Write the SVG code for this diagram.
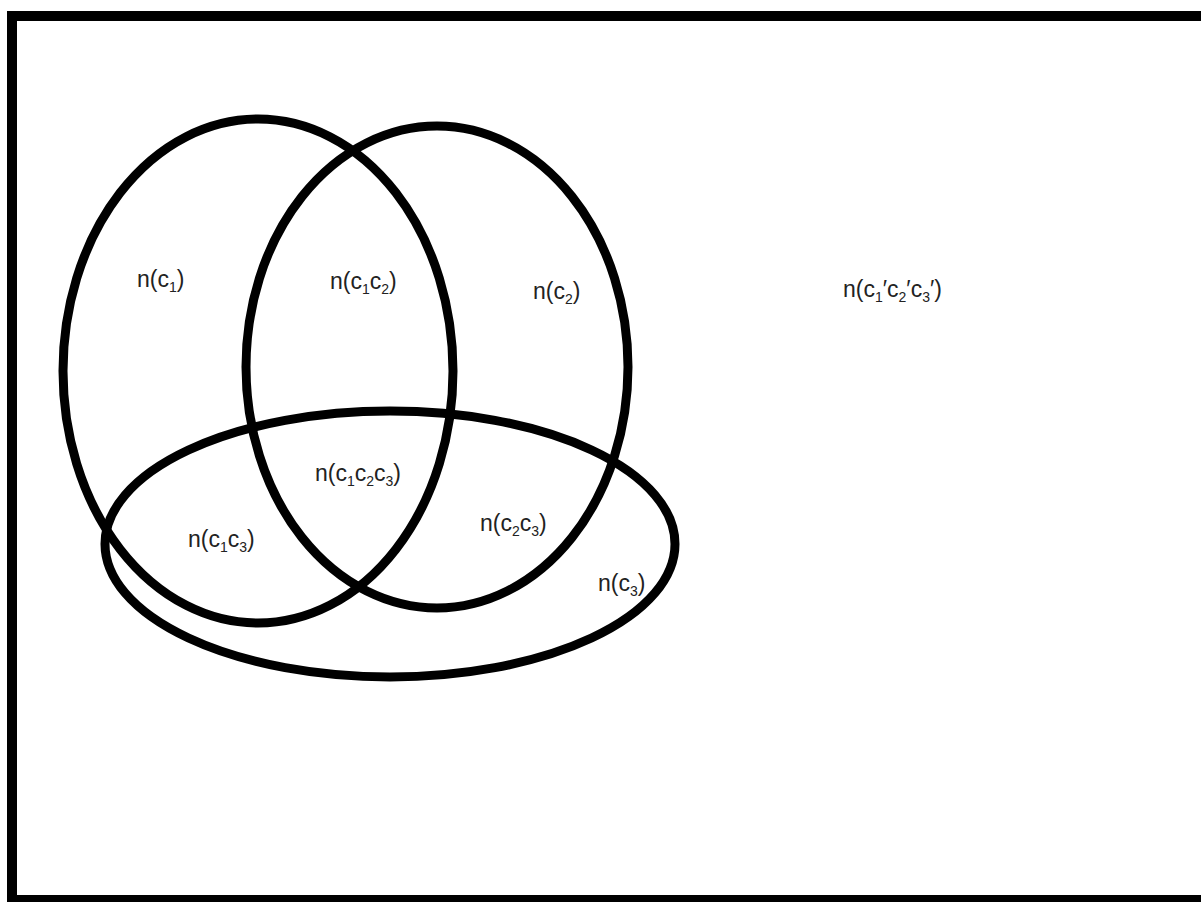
<svg xmlns="http://www.w3.org/2000/svg" width="1201" height="902" viewBox="0 0 1201 902">
<style>
.set{fill:none;stroke:#000;stroke-width:9}
.lbl{font-family:"Liberation Sans",Arial,sans-serif;font-size:23px;fill:#222}
.sub{font-size:14px}
</style>
<rect x="0" y="0" width="1201" height="902" fill="#fff"/>
<g id="universe"><rect x="12" y="16" width="1196" height="884" fill="none" stroke="#000" stroke-width="10"/></g>
<g id="c1"><ellipse class="set" cx="258" cy="371" rx="195" ry="252"/></g>
<g id="c2"><ellipse class="set" cx="437" cy="367" rx="191" ry="241"/></g>
<g id="c3"><ellipse class="set" cx="390" cy="544" rx="285" ry="133"/></g>
<g id="labels">
<text class="lbl" x="137" y="287">n(c<tspan class="sub" dy="5">1</tspan><tspan dy="-5">)</tspan></text>
<text class="lbl" x="330" y="289">n(c<tspan class="sub" dy="5">1</tspan><tspan dy="-5">c</tspan><tspan class="sub" dy="5">2</tspan><tspan dy="-5">)</tspan></text>
<text class="lbl" x="533" y="299">n(c<tspan class="sub" dy="5">2</tspan><tspan dy="-5">)</tspan></text>
<text class="lbl" x="843" y="297">n(c<tspan class="sub" dy="5">1</tspan><tspan dy="-5">′c</tspan><tspan class="sub" dy="5">2</tspan><tspan dy="-5">′c</tspan><tspan class="sub" dy="5">3</tspan><tspan dy="-5">′)</tspan></text>
<text class="lbl" x="315" y="481">n(c<tspan class="sub" dy="5">1</tspan><tspan dy="-5">c</tspan><tspan class="sub" dy="5">2</tspan><tspan dy="-5">c</tspan><tspan class="sub" dy="5">3</tspan><tspan dy="-5">)</tspan></text>
<text class="lbl" x="480" y="531">n(c<tspan class="sub" dy="5">2</tspan><tspan dy="-5">c</tspan><tspan class="sub" dy="5">3</tspan><tspan dy="-5">)</tspan></text>
<text class="lbl" x="188" y="547">n(c<tspan class="sub" dy="5">1</tspan><tspan dy="-5">c</tspan><tspan class="sub" dy="5">3</tspan><tspan dy="-5">)</tspan></text>
<text class="lbl" x="598" y="591">n(c<tspan class="sub" dy="5">3</tspan><tspan dy="-5">)</tspan></text>
</g>
</svg>
